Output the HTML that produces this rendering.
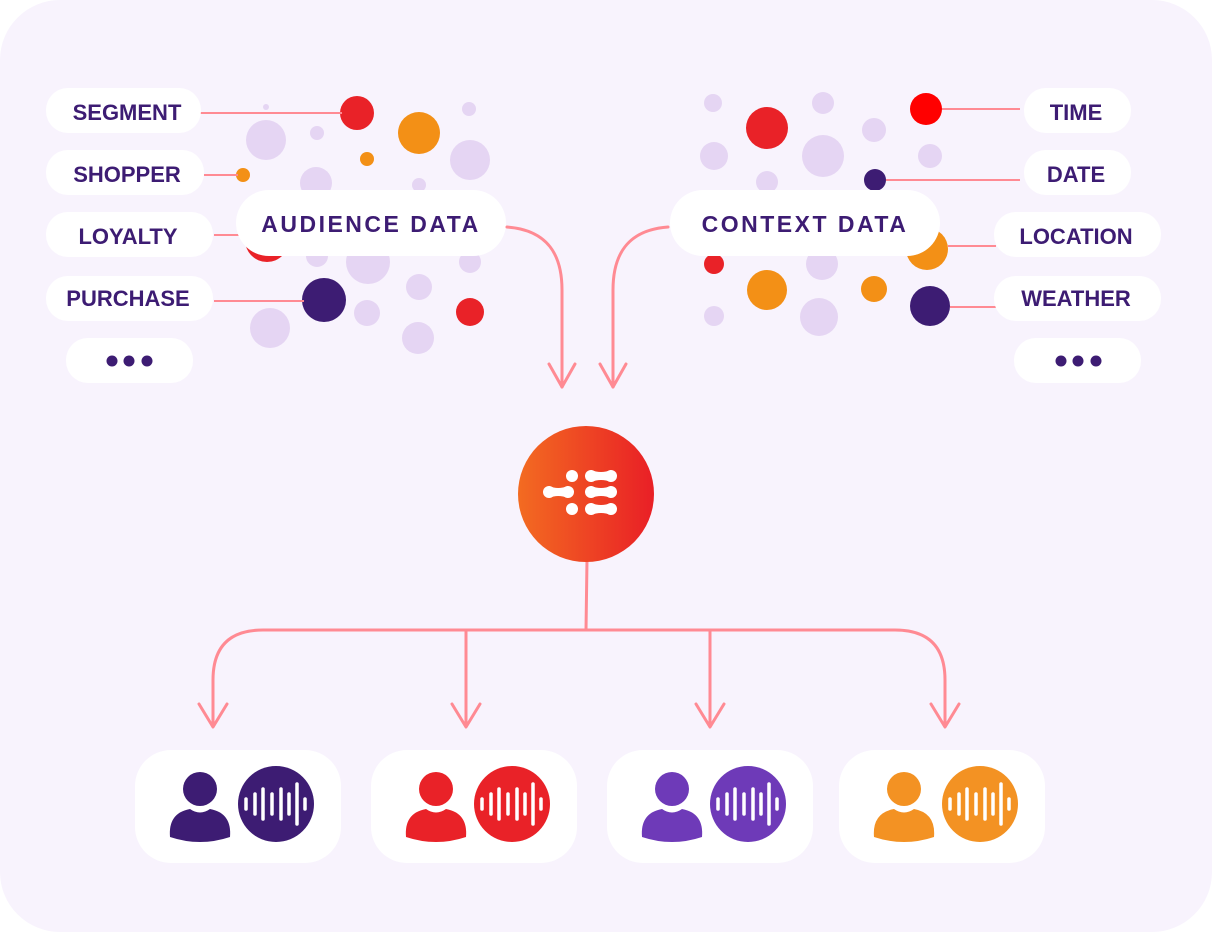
<!DOCTYPE html>
<html><head><meta charset="utf-8"><style>
html,body{margin:0;padding:0;background:#fff;}
svg{display:block;}
text{font-family:"Liberation Sans",sans-serif;font-weight:bold;fill:#3d1c73;}
</style></head><body>
<svg width="1212" height="932" viewBox="0 0 1212 932" xmlns="http://www.w3.org/2000/svg">
<defs>
<linearGradient id="g" x1="0" x2="1" y1="0" y2="0"><stop offset="0" stop-color="#f36b21"/><stop offset="1" stop-color="#e91f26"/></linearGradient>
</defs>
<rect x="0" y="0" width="1212" height="932" rx="60" fill="#f8f3fd"/>
<g fill="#e5d5f3">
<circle cx="266" cy="107" r="3"/><circle cx="266" cy="140" r="20"/><circle cx="317" cy="133" r="7"/>
<circle cx="469" cy="109" r="7"/><circle cx="470" cy="160" r="20"/><circle cx="316" cy="183" r="16"/>
<circle cx="419" cy="185" r="7"/><circle cx="317" cy="256" r="11"/><circle cx="368" cy="262" r="22"/>
<circle cx="419" cy="287" r="13"/><circle cx="470" cy="262" r="11"/><circle cx="367" cy="313" r="13"/>
<circle cx="270" cy="328" r="20"/><circle cx="418" cy="338" r="16"/>
</g>
<circle cx="357" cy="113" r="17" fill="#e92228"/>
<circle cx="419" cy="133" r="21" fill="#f39016"/>
<circle cx="367" cy="159" r="7" fill="#f39016"/>
<circle cx="243" cy="175" r="7" fill="#f39016"/>
<circle cx="267" cy="240" r="22" fill="#e92228"/>
<circle cx="324" cy="300" r="22" fill="#3d1c73"/>
<circle cx="470" cy="312" r="14" fill="#e92228"/>
<g stroke="#ff8a93" stroke-width="2">
<line x1="200" y1="113" x2="342" y2="113"/><line x1="204" y1="175" x2="238" y2="175"/>
<line x1="214" y1="235" x2="240" y2="235"/><line x1="214" y1="301" x2="304" y2="301"/>
</g>
<g fill="#e5d5f3">
<circle cx="714" cy="156" r="14"/><circle cx="823" cy="156" r="21"/><circle cx="874" cy="130" r="12"/>
<circle cx="823" cy="103" r="11"/><circle cx="930" cy="156" r="12"/><circle cx="767" cy="182" r="11"/>
<circle cx="822" cy="264" r="16"/><circle cx="714" cy="316" r="10"/><circle cx="819" cy="317" r="19"/>
<circle cx="713" cy="103" r="9"/>
</g>
<circle cx="767" cy="128" r="21" fill="#e92228"/>
<circle cx="714" cy="264" r="10" fill="#e92228"/>
<circle cx="767" cy="290" r="20" fill="#f39016"/>
<circle cx="874" cy="289" r="13" fill="#f39016"/>
<circle cx="926" cy="109" r="16" fill="#ff0000"/>
<circle cx="875" cy="180" r="11" fill="#3d1c73"/>
<circle cx="927" cy="249" r="21" fill="#f39016"/>
<circle cx="930" cy="306" r="20" fill="#3d1c73"/>
<g stroke="#ff8a93" stroke-width="2">
<line x1="942" y1="109" x2="1020" y2="109"/><line x1="886" y1="180" x2="1020" y2="180"/>
<line x1="948" y1="246" x2="996" y2="246"/><line x1="950" y1="307" x2="996" y2="307"/>
</g>
<g fill="#fff">
<rect x="46" y="88" width="155" height="45" rx="22"/><rect x="46" y="150" width="158" height="45" rx="22"/>
<rect x="46" y="212" width="167" height="45" rx="22"/><rect x="46" y="276" width="167" height="45" rx="22"/>
<rect x="66" y="338" width="127" height="45" rx="22"/>
<rect x="1024" y="88" width="107" height="45" rx="22"/><rect x="1024" y="150" width="107" height="45" rx="22"/>
<rect x="994" y="212" width="167" height="45" rx="22"/><rect x="994" y="276" width="167" height="45" rx="22"/>
<rect x="1014" y="338" width="127" height="45" rx="22"/>
<rect x="236" y="190" width="270" height="66" rx="33"/><rect x="670" y="190" width="270" height="66" rx="33"/>
</g>
<g font-size="22" text-anchor="middle">
<text x="127" y="120">SEGMENT</text><text x="127" y="182">SHOPPER</text>
<text x="128" y="244">LOYALTY</text><text x="128" y="306">PURCHASE</text>
<text x="1076" y="120">TIME</text><text x="1076" y="182">DATE</text>
<text x="1076" y="244">LOCATION</text><text x="1076" y="306">WEATHER</text>
</g>
<g fill="#3d1c73">
<circle cx="112" cy="361" r="5.5"/><circle cx="129" cy="361" r="5.5"/><circle cx="147" cy="361" r="5.5"/>
<circle cx="1061" cy="361" r="5.5"/><circle cx="1078" cy="361" r="5.5"/><circle cx="1096" cy="361" r="5.5"/>
</g>
<g font-size="23" text-anchor="middle" letter-spacing="2.5">
<text x="371" y="232">AUDIENCE DATA</text><text x="805" y="232">CONTEXT DATA</text>
</g>
<g stroke="#ff8a93" stroke-width="3" fill="none" stroke-linecap="round" stroke-linejoin="round">
<path d="M507,227 C548,230 562,255 562,290 L562,387"/>
<path d="M549,364 L562,387 L575,364"/>
<path d="M668,227 C627,230 613,255 613,290 L613,387"/>
<path d="M600,364 L613,387 L626,364"/>
<path d="M587,560 L586,630"/>
<path d="M213,726 L213,680 Q213,630 263,630 L895,630 Q945,630 945,680 L945,726"/>
<path d="M466,630 L466,726"/><path d="M710,630 L710,726"/>
<path d="M199,704 L213,727 L227,704"/><path d="M452,704 L466,727 L480,704"/>
<path d="M696,704 L710,727 L724,704"/><path d="M931,704 L945,727 L959,704"/>
</g>
<circle cx="586" cy="494" r="68" fill="url(#g)"/>
<g fill="#fff">
<circle cx="572" cy="476" r="6"/><circle cx="572" cy="509" r="6"/>
<circle cx="591" cy="476" r="6"/><circle cx="611" cy="476" r="6"/><path d="M591,470 Q601,474 611,470 L611,482 Q601,478 591,482Z"/>
<circle cx="591" cy="509" r="6"/><circle cx="611" cy="509" r="6"/><path d="M591,503 Q601,507 611,503 L611,515 Q601,511 591,515Z"/>
<circle cx="591" cy="492" r="6"/><circle cx="611" cy="492" r="6"/><path d="M591,486 Q601,490 611,486 L611,498 Q601,494 591,498Z"/>
<circle cx="549" cy="492" r="6"/><circle cx="568" cy="492" r="6"/><path d="M549,486 Q558,490 568,486 L568,498 Q558,494 549,498Z"/>
</g>
<g fill="#fff">
<rect x="135" y="750" width="206" height="113" rx="36"/><rect x="371" y="750" width="206" height="113" rx="36"/>
<rect x="607" y="750" width="206" height="113" rx="36"/><rect x="839" y="750" width="206" height="113" rx="36"/>
</g>
<defs>
<g id="ic">
<circle cx="0" cy="0" r="17"/>
<path d="M-30,48 Q-32,24 -10,20 Q0,27 10,20 Q32,24 30,48 Q0,58 -30,48Z"/>
</g>
<g id="bars" stroke="#fff" stroke-width="3.5" stroke-linecap="round">
<line x1="-28" y1="-5" x2="-28" y2="5"/><line x1="-19" y1="-10" x2="-19" y2="10"/>
<line x1="-11" y1="-15" x2="-11" y2="15"/><line x1="-2" y1="-10" x2="-2" y2="10"/>
<line x1="7" y1="-15" x2="7" y2="15"/><line x1="15" y1="-10" x2="15" y2="10"/>
<line x1="23" y1="-20" x2="23" y2="20"/><line x1="31" y1="-5" x2="31" y2="5"/>
</g>
</defs>
<g fill="#3d1c73"><use href="#ic" x="200" y="789"/><circle cx="276" cy="804" r="38"/></g><use href="#bars" x="274" y="804"/>
<g fill="#e92228"><use href="#ic" x="436" y="789"/><circle cx="512" cy="804" r="38"/></g><use href="#bars" x="510" y="804"/>
<g fill="#6e3ab8"><use href="#ic" x="672" y="789"/><circle cx="748" cy="804" r="38"/></g><use href="#bars" x="746" y="804"/>
<g fill="#f39223"><use href="#ic" x="904" y="789"/><circle cx="980" cy="804" r="38"/></g><use href="#bars" x="978" y="804"/>
</svg>
</body></html>
